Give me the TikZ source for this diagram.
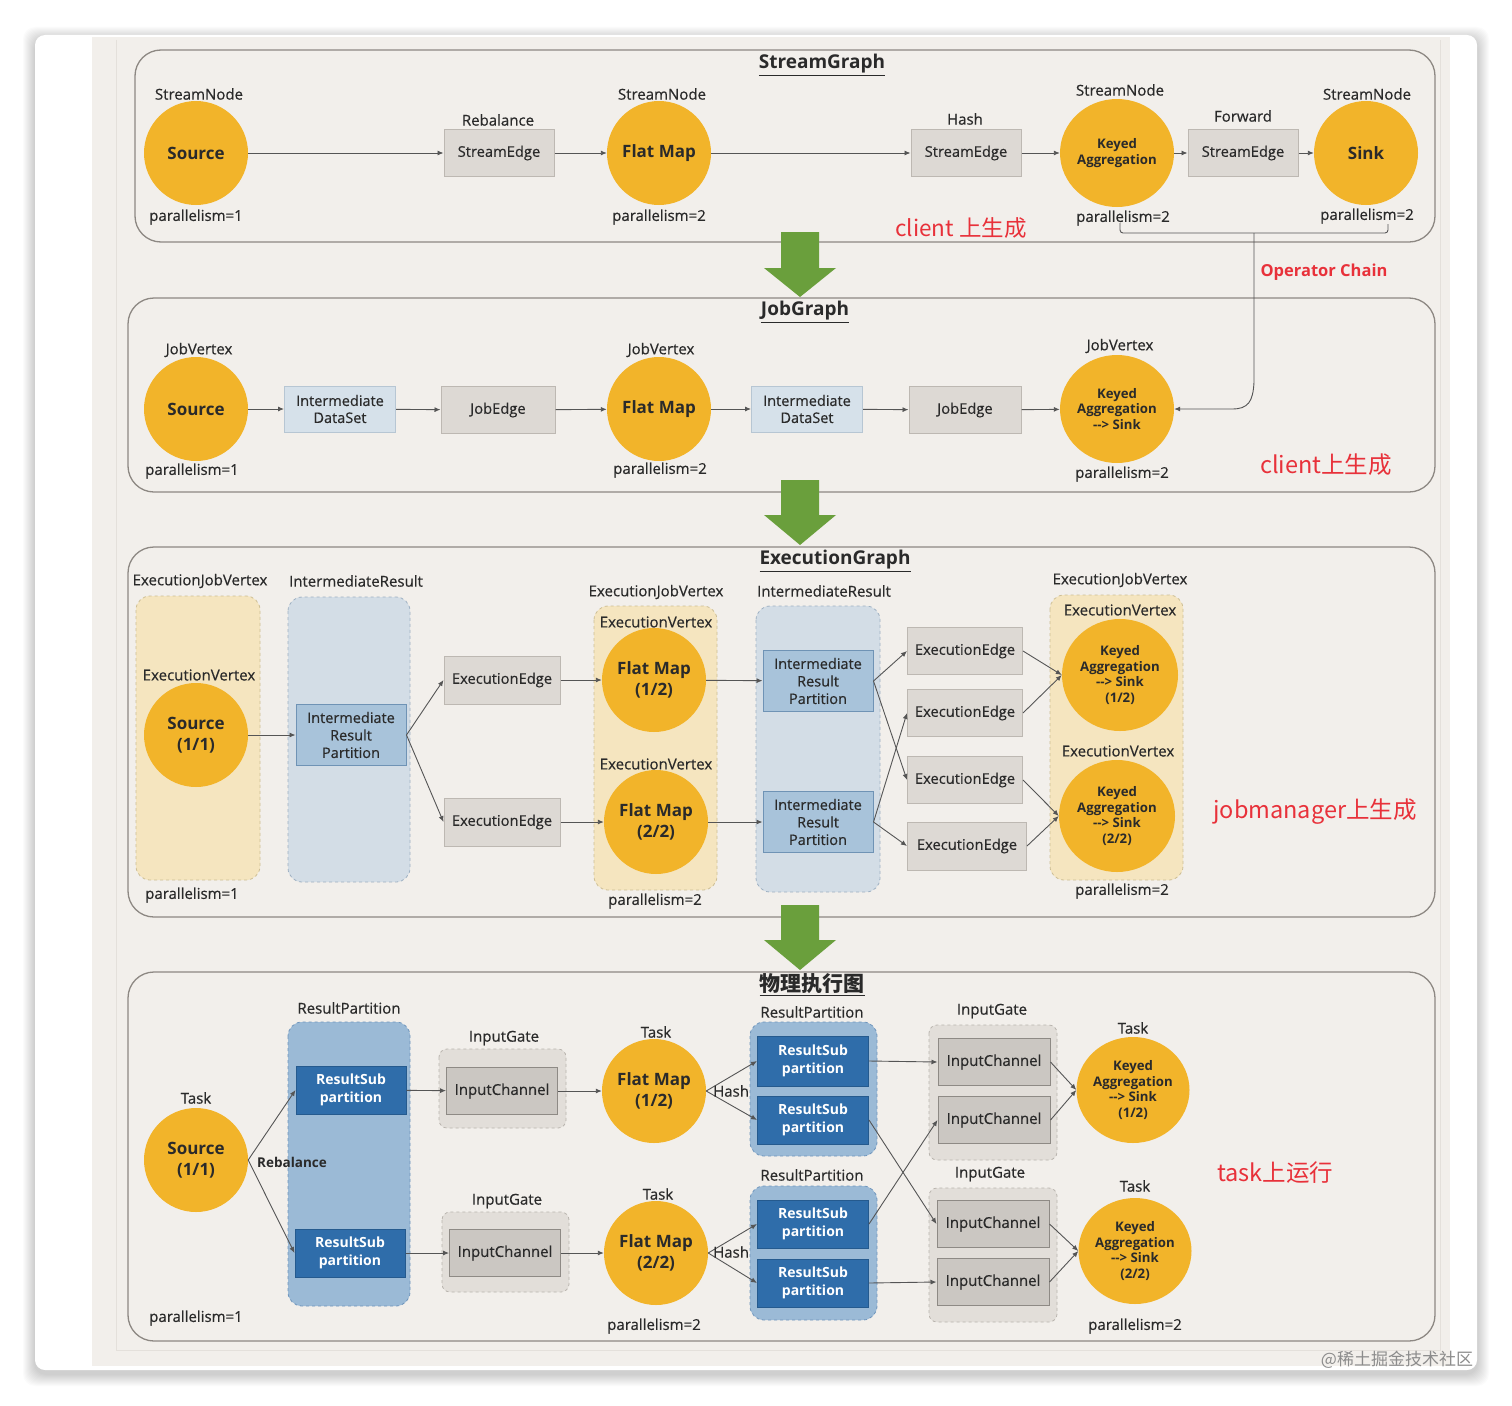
\documentclass[tikz,border=0pt]{standalone}
\usepackage{fontspec}
\setmainfont{Open Sans}
\newfontfamily\medf{Open Sans}[FakeBold=0.5]
\newfontfamily\cjk{Noto Sans CJK SC}
\usetikzlibrary{arrows.meta,shapes.geometric}
\definecolor{bg}{HTML}{F2EFEB}
\definecolor{bgline}{HTML}{E4E0DB}
\definecolor{pnl}{HTML}{8D8883}
\definecolor{txt}{HTML}{2A2A2A}
\definecolor{cyel}{HTML}{F2B42A}
\definecolor{edgef}{HTML}{DDD9D4}
\definecolor{edgeb}{HTML}{BDB8B2}
\definecolor{dsf}{HTML}{D6E1EA}
\definecolor{dsb}{HTML}{B7C6D3}
\definecolor{yconf}{HTML}{F5E5BF}
\definecolor{yconb}{HTML}{CDBE94}
\definecolor{bconf}{HTML}{D3DDE6}
\definecolor{bconb}{HTML}{9EB0C2}
\definecolor{irpf}{HTML}{A8C3DA}
\definecolor{irpb}{HTML}{6F93B5}
\definecolor{pconf}{HTML}{9BBAD6}
\definecolor{pconb}{HTML}{6E95BC}
\definecolor{rsf}{HTML}{2F6DAA}
\definecolor{rsb}{HTML}{255A8E}
\definecolor{gatef}{HTML}{E2DED9}
\definecolor{gateb}{HTML}{B9B4AE}
\definecolor{icf}{HTML}{CBC7C2}
\definecolor{icb}{HTML}{8E8A85}
\definecolor{grn}{HTML}{6A9F3C}
\definecolor{redt}{HTML}{E8313A}
\definecolor{lc}{HTML}{555555}
\newcommand{\kas}{{-}{-}> Sink}
\begin{document}
\begin{tikzpicture}[x=1pt,y=-1pt,
  lbl/.style={font=\medf\fontsize{15}{17}\selectfont, text=txt, inner sep=0},
  circ/.style={circle, fill=cyel, minimum size=104, inner sep=0, align=center, text=txt, font=\bfseries\fontsize{17}{21}\selectfont},
  kcirc/.style={ellipse, fill=cyel, minimum width=114, minimum height=108, inner sep=0, align=center, text=txt, font=\bfseries\fontsize{13.2}{15.8}\selectfont},
  ebox/.style={rectangle, draw=edgeb, fill=edgef, line width=1, minimum width=110, minimum height=47, inner sep=0, align=center, text=txt, font=\medf\fontsize{14.7}{17}\selectfont},
  dsbox/.style={ebox, draw=dsb, fill=dsf, minimum width=111, minimum height=46, font=\medf\fontsize{14.5}{17}\selectfont},
  irpbox/.style={ebox, draw=irpb, fill=irpf, minimum width=110, minimum height=61, font=\medf\fontsize{14.5}{17.5}\selectfont},
  rsbox/.style={ebox, draw=rsb, fill=rsf, text=white, minimum width=111, minimum height=48, font=\bfseries\fontsize{14}{17.5}\selectfont},
  icbox/.style={ebox, draw=icb, fill=icf, minimum width=111, minimum height=47, font=\medf\fontsize{15}{17}\selectfont},
  ycon/.style={draw=yconb, fill=yconf, dashed, line width=0.8, rounded corners=14},
  bcon/.style={draw=bconb, fill=bconf, dashed, line width=0.8, rounded corners=14},
  pcon/.style={draw=pconb, fill=pconf, dashed, line width=0.8, rounded corners=14},
  gcon/.style={draw=gateb, fill=gatef, dashed, line width=0.8, rounded corners=8},
  panel/.style={draw=pnl, line width=1.3, rounded corners=26},
  conn/.style={draw=lc, line width=0.9, -{Latex[length=6,width=5]}},
  ttl/.style={font=\bfseries\fontsize{19}{22}\selectfont, text=txt, inner sep=0},
  redlbl/.style={font=\cjk\fontsize{23.5}{27}\selectfont, text=redt, inner sep=0},
  garrow/.style={fill=grn}
]
% background and card
\fill[white] (0,0) rectangle (1512,1405);
\foreach \i in {1,...,12}{
  \fill[black, opacity=0.014, rounded corners=12] (35-\i,35-\i+4) rectangle (1477+\i,1370+\i+4);
}
\fill[white, rounded corners=10] (35,35) rectangle (1477,1370);
\fill[bg] (92,37) rectangle (1450,1366);
\draw[bgline, line width=1] (116,40) -- (116,1350) -- (1440,1350) -- (1440,40);
\node[font=\cjk\fontsize{17}{19}\selectfont, text=black!45, inner sep=0] (wm) at (1397,1360) {@稀土掘金技术社区};

% panels
\draw[panel] (135,50) rectangle (1435,242);
\draw[panel] (128,298) rectangle (1435,492);
\draw[panel] (128,547) rectangle (1435,917);
\draw[panel] (128,972) rectangle (1435,1341);

% ================= StreamGraph =================
\node[ttl] (aT) at (822,65) {\underline{StreamGraph}};
\node[circ] (aSrc) at (196,153) {Source};
\node[lbl] (aSrcT) at (199,94) {StreamNode};
\node[lbl] (aSrcP) at (196,217) {parallelism=1};
\node[ebox] (aE1) at (499,153) {StreamEdge};
\node[lbl] (aE1T) at (498,120) {Rebalance};
\node[circ] (aFm) at (659,153) {Flat Map};
\node[lbl] (aFmT) at (662,94) {StreamNode};
\node[lbl] (aFmP) at (659,217) {parallelism=2};
\node[ebox] (aE2) at (966,153) {StreamEdge};
\node[lbl] (aE2T) at (965,119) {Hash};
\node[kcirc] (aKa) at (1117,153) {Keyed\\Aggregation};
\node[lbl] (aKaT) at (1120,90) {StreamNode};
\node[lbl] (aKaP) at (1123,218) {parallelism=2};
\node[ebox] (aE3) at (1243,153) {StreamEdge};
\node[lbl] (aE3T) at (1243,116) {Forward};
\node[circ] (aSk) at (1366,153) {Sink};
\node[lbl] (aSkT) at (1367,94) {StreamNode};
\node[lbl] (aSkP) at (1367,216) {parallelism=2};
\draw[conn] (aSrc) -- (aE1);
\draw[conn] (aE1) -- (aFm);
\draw[conn] (aFm) -- (aE2);
\draw[conn] (aE2) -- (aKa);
\draw[conn] (aKa) -- (aE3);
\draw[conn] (aE3) -- (aSk);
\node[redlbl, font=\cjk\fontsize{22.5}{26}\selectfont] (aRed) at (961,228) {client 上生成};

% operator chain bracket
\coordinate (brL) at (1120,223);
\coordinate (brR) at (1388,224);
\coordinate (chainTop) at (1254,233);
\draw[lc, line width=0.9, rounded corners=3] (brL) -- (1120,233) -- (1388,233) -- (brR);
\node[font=\bfseries\fontsize{16.5}{19}\selectfont, text=redt, inner sep=0] (opc) at (1324,272) {Operator Chain};

% ================= JobGraph =================
\node[ttl] (bT) at (805,312) {\underline{JobGraph}};
\node[circ] (bSrc) at (196,409) {Source};
\node[lbl] (bSrcT) at (199,350) {JobVertex};
\node[lbl] (bSrcP) at (192,471) {parallelism=1};
\node[dsbox] (bDs1) at (340,409) {Intermediate\\DataSet};
\node[ebox, minimum width=114] (bJe1) at (498,410) {JobEdge};
\node[circ] (bFm) at (659,409) {Flat Map};
\node[lbl] (bFmT) at (661,350) {JobVertex};
\node[lbl] (bFmP) at (660,470) {parallelism=2};
\node[dsbox] (bDs2) at (807,409) {Intermediate\\DataSet};
\node[ebox, minimum width=112] (bJe2) at (965,410) {JobEdge};
\node[kcirc] (bKa) at (1117,409) {Keyed\\Aggregation\\\kas};
\node[lbl] (bKaT) at (1120,346) {JobVertex};
\node[lbl] (bKaP) at (1122,474) {parallelism=2};
\draw[conn] (bSrc) -- (bDs1);
\draw[conn] (bDs1) -- (bJe1);
\draw[conn] (bJe1) -- (bFm);
\draw[conn] (bFm) -- (bDs2);
\draw[conn] (bDs2) -- (bJe2);
\draw[conn] (bJe2) -- (bKa);
\draw[conn] (chainTop) -- (1254,382) .. controls (1253,402) and (1248,409) .. (1232,409) -- (bKa);
\node[redlbl] (bRed) at (1326,465) {client上生成};

% ================= ExecutionGraph =================
\node[ttl] (cT) at (835,561) {\underline{ExecutionGraph}};
\draw[ycon] (136,596) rectangle (260,880);
\draw[bcon] (288,597) rectangle (410,882);
\draw[ycon] (594,606) rectangle (717,890);
\draw[bcon] (756,606) rectangle (880,892);
\draw[ycon] (1050,595) rectangle (1183,880);
\node[lbl] (cL1) at (200,581) {ExecutionJobVertex};
\node[lbl] (cL2) at (356,581) {IntermediateResult};
\node[lbl] (cL3) at (656,592) {ExecutionJobVertex};
\node[lbl] (cL4) at (824,591) {IntermediateResult};
\node[lbl] (cL5) at (1120,580) {ExecutionJobVertex};
\node[lbl] (cV1) at (199,675) {ExecutionVertex};
\node[lbl] (cV2) at (656,622) {ExecutionVertex};
\node[lbl] (cV3) at (656,764) {ExecutionVertex};
\node[lbl] (cV4) at (1120,610) {ExecutionVertex};
\node[lbl] (cV5) at (1118,751) {ExecutionVertex};
\node[circ] (cSrc) at (196,735) {Source\\(1/1)};
\node[irpbox] (cIrp0) at (351,735) {Intermediate\\Result\\Partition};
\node[ebox, minimum width=116, minimum height=48] (cEe1) at (502,680) {ExecutionEdge};
\node[ebox, minimum width=116, minimum height=48] (cEe2) at (502,822) {ExecutionEdge};
\node[circ] (cFm1) at (654,680) {Flat Map\\(1/2)};
\node[circ] (cFm2) at (656,822) {Flat Map\\(2/2)};
\node[irpbox] (cIrp1) at (818,681) {Intermediate\\Result\\Partition};
\node[irpbox] (cIrp2) at (818,822) {Intermediate\\Result\\Partition};
\node[ebox, minimum width=115] (cEe3) at (965,651) {ExecutionEdge};
\node[ebox, minimum width=115] (cEe4) at (965,713) {ExecutionEdge};
\node[ebox, minimum width=115] (cEe5) at (965,780) {ExecutionEdge};
\node[ebox, minimum width=119, minimum height=48] (cEe6) at (967,846) {ExecutionEdge};
\node[kcirc, minimum width=116, minimum height=112] (cKa1) at (1120,675) {Keyed\\Aggregation\\\kas\\(1/2)};
\node[kcirc, minimum width=116, minimum height=112] (cKa2) at (1117,816) {Keyed\\Aggregation\\\kas\\(2/2)};
\node[lbl] (cP1) at (192,895) {parallelism=1};
\node[lbl] (cP2) at (655,901) {parallelism=2};
\node[lbl] (cP3) at (1122,891) {parallelism=2};
\draw[conn] (cSrc) -- (cIrp0);
\draw[conn] (cIrp0.east) -- (cEe1.west);
\draw[conn] (cIrp0.east) -- (cEe2.west);
\draw[conn] (cEe1) -- (cFm1);
\draw[conn] (cEe2) -- (cFm2);
\draw[conn] (cFm1) -- (cIrp1);
\draw[conn] (cFm2) -- (cIrp2);
\draw[conn] (cIrp1.east) -- (cEe3.west);
\draw[conn] (cIrp1.east) -- (cEe5.west);
\draw[conn] (cIrp2.east) -- (cEe4.west);
\draw[conn] (cIrp2.east) -- (cEe6.west);
\draw[conn] (cEe3.east) -- (cKa1.west);
\draw[conn] (cEe4.east) -- (cKa1.west);
\draw[conn] (cEe5.east) -- (cKa2.west);
\draw[conn] (cEe6.east) -- (cKa2.west);
\node[redlbl] (cRed) at (1315,812) {jobmanager上生成};

% ================= Physical =================
\node[font=\cjk\bfseries\fontsize{21}{24}\selectfont, text=txt, inner sep=0] (dT) at (812,985) {\underline{物理执行图}};
\draw[pcon] (288,1022) rectangle (410,1306);
\draw[gcon] (439,1049) rectangle (566,1128);
\draw[gcon] (442,1212) rectangle (569,1292);
\draw[pcon] (750,1022) rectangle (877,1156);
\draw[pcon] (750,1186) rectangle (877,1320);
\draw[gcon] (929,1025) rectangle (1057,1160);
\draw[gcon] (929,1188) rectangle (1057,1322);
\node[lbl] (dL1) at (196,1098) {Task};
\node[lbl] (dL2) at (349,1008) {ResultPartition};
\node[lbl] (dL3) at (504,1038) {InputGate};
\node[lbl] (dL4) at (507,1201) {InputGate};
\node[lbl] (dL5) at (656,1032) {Task};
\node[lbl] (dL6) at (658,1194) {Task};
\node[lbl] (dL7) at (812,1012) {ResultPartition};
\node[lbl] (dL8) at (812,1175) {ResultPartition};
\node[lbl] (dL9) at (992,1011) {InputGate};
\node[lbl] (dL10) at (990,1174) {InputGate};
\node[lbl] (dL11) at (1133,1028) {Task};
\node[lbl] (dL12) at (1135,1186) {Task};
\node[circ] (dSrc) at (196,1160) {Source\\(1/1)};
\node[rsbox, minimum width=110] (dRs1) at (351,1090) {ResultSub\\partition};
\node[rsbox, minimum width=110] (dRs2) at (350,1253) {ResultSub\\partition};
\node[icbox] (dIc1) at (502,1091) {InputChannel};
\node[icbox] (dIc2) at (505,1253) {InputChannel};
\node[circ] (dFm1) at (654,1091) {Flat Map\\(1/2)};
\node[circ] (dFm2) at (656,1253) {Flat Map\\(2/2)};
\node[rsbox, minimum height=50] (dRs3) at (813,1061) {ResultSub\\partition};
\node[rsbox] (dRs4) at (813,1120) {ResultSub\\partition};
\node[rsbox] (dRs5) at (813,1224) {ResultSub\\partition};
\node[rsbox] (dRs6) at (813,1283) {ResultSub\\partition};
\node[icbox, minimum width=112] (dIc3) at (994,1062) {InputChannel};
\node[icbox, minimum width=112] (dIc4) at (994,1120) {InputChannel};
\node[icbox, minimum width=112] (dIc5) at (993,1224) {InputChannel};
\node[icbox, minimum width=112] (dIc6) at (993,1282) {InputChannel};
\node[kcirc, minimum width=113, minimum height=106] (dKa1) at (1133,1090) {Keyed\\Aggregation\\\kas\\(1/2)};
\node[kcirc, minimum width=113, minimum height=106] (dKa2) at (1135,1251) {Keyed\\Aggregation\\\kas\\(2/2)};
\node[lbl] (dP1) at (196,1318) {parallelism=1};
\node[lbl] (dP2) at (654,1326) {parallelism=2};
\node[lbl] (dP3) at (1135,1326) {parallelism=2};
\draw[conn] (dSrc.east) -- (dRs1.west);
\draw[conn] (dSrc.east) -- (dRs2.west);
\draw[conn] (dRs1) -- (dIc1);
\draw[conn] (dRs2) -- (dIc2);
\draw[conn] (dIc1) -- (dFm1);
\draw[conn] (dIc2) -- (dFm2);
\draw[conn] (dFm1.east) -- (dRs3.west);
\draw[conn] (dFm1.east) -- (dRs4.west);
\draw[conn] (dFm2.east) -- (dRs5.west);
\draw[conn] (dFm2.east) -- (dRs6.west);
\draw[conn] (dRs3.east) -- (dIc3.west);
\draw[conn] (dRs4.east) -- (dIc5.west);
\draw[conn] (dRs5.east) -- (dIc4.west);
\draw[conn] (dRs6.east) -- (dIc6.west);
\draw[conn] (dIc3.east) -- (dKa1.west);
\draw[conn] (dIc4.east) -- (dKa1.west);
\draw[conn] (dIc5.east) -- (dKa2.west);
\draw[conn] (dIc6.east) -- (dKa2.west);
\node[lbl, font=\bfseries\fontsize{13.5}{16}\selectfont, anchor=west] (dReb) at (257,1162) {Rebalance};
\node[lbl, anchor=west] (dH1) at (713,1091) {Hash};
\node[lbl, anchor=west] (dH2) at (713,1252) {Hash};
\node[redlbl] (dRed) at (1275,1173) {task上运行};

% green arrows
\fill[garrow] (781,232) -- (819,232) -- (819,268) -- (836,268) -- (800,297) -- (764,268) -- (781,268) -- cycle;
\fill[garrow] (781,480) -- (819,480) -- (819,515) -- (836,515) -- (800,545) -- (764,515) -- (781,515) -- cycle;
\fill[garrow] (781,905) -- (819,905) -- (819,940) -- (836,940) -- (800,970) -- (764,940) -- (781,940) -- cycle;
\end{tikzpicture}
\end{document}
